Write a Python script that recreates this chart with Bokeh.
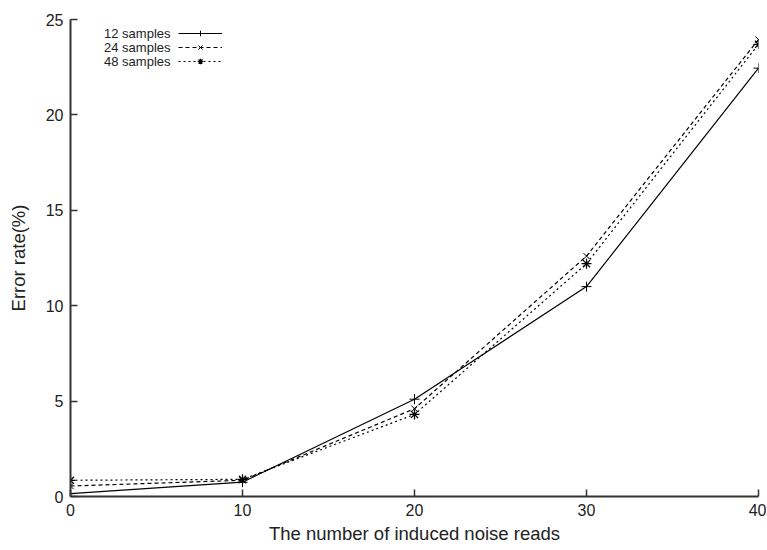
from bokeh.plotting import figure
from bokeh.models import Range1d, FixedTicker, Legend, LegendItem, Label
from bokeh.embed import file_html
from bokeh.resources import INLINE

noise_reads = [0, 10, 20, 30, 40]
err_12 = [0.15, 0.75, 5.1, 11.0, 22.45]
err_24 = [0.55, 0.85, 4.6, 12.6, 23.95]
err_48 = [0.85, 0.9, 4.3, 12.2, 23.7]
series_labels = ["12 samples", "24 samples", "48 samples"]
x_ticks = [0, 10, 20, 30, 40]
y_ticks = [0, 5, 10, 15, 20, 25]

FONT = "Liberation Sans"
FRAME_L, FRAME_T, FRAME_R, FRAME_B = 70, 19, 758, 496
W, H = 766, 549

p = figure(width=W, height=H, output_backend="svg", toolbar_location=None,
           x_range=Range1d(0, 40), y_range=Range1d(0, 25),
           min_border_left=FRAME_L, min_border_right=W - FRAME_R,
           min_border_top=FRAME_T, min_border_bottom=H - FRAME_B)
p.outline_line_color = None
p.grid.visible = False

for ax in (p.xaxis[0], p.yaxis[0]):
    ax.axis_line_width = 2
    ax.axis_line_color = "#333333"
    ax.major_tick_in = 7
    ax.major_tick_out = 0
    ax.major_tick_line_color = "#333333"
    ax.major_tick_line_width = 1.5
    ax.minor_tick_line_color = None
    ax.major_label_text_font = FONT
    ax.major_label_text_font_size = "16px"
    ax.major_label_text_color = "#222222"
    ax.axis_label_text_font = FONT
    ax.axis_label_text_font_size = "18.5px"
    ax.axis_label_text_font_style = "normal"
    ax.axis_label_text_color = "#222222"

p.xaxis.ticker = FixedTicker(ticks=x_ticks)
p.yaxis.ticker = FixedTicker(ticks=y_ticks)
p.xaxis.axis_label = "The number of induced noise reads"
p.yaxis.axis_label = "Error rate(%)"
p.xaxis.major_label_standoff = 7
p.yaxis.major_label_standoff = 7
p.xaxis.axis_label_standoff = 4
p.yaxis.axis_label_standoff = 14

l1 = p.line(noise_reads, err_12, line_color="black", line_width=1.2)
m1 = p.scatter(noise_reads, err_12, marker="cross", size=10, line_color="black", line_width=1)
l2 = p.line(noise_reads, err_24, line_color="black", line_width=1.2, line_dash="4 3")
m2 = p.scatter(noise_reads, err_24, marker="x", size=9, line_color="black", line_width=1)
l3 = p.line(noise_reads, err_48, line_color="black", line_width=1.2, line_dash="2 3")
m3 = p.scatter(noise_reads, err_48, marker="asterisk", size=10, line_color="black", line_width=1.2)

# legend: glyph samples (no text) + right-aligned texts to their left
row_h = 14
first_row = 33  # px below the top of the picture
legend = Legend(items=[
    LegendItem(label=" ", renderers=[l1, m1]),
    LegendItem(label=" ", renderers=[l2, m2]),
    LegendItem(label=" ", renderers=[l3, m3]),
], location=(108, (FRAME_B - first_row) + row_h // 2 - 3 * row_h), orientation="vertical")
legend.background_fill_alpha = 0
legend.border_line_color = None
legend.label_text_font_size = "1px"
legend.label_height = row_h
legend.label_width = 1
legend.glyph_height = row_h
legend.glyph_width = 44
legend.spacing = 0
legend.padding = 0
legend.margin = 0
legend.label_standoff = 0
p.add_layout(legend)

for i, txt in enumerate(series_labels):
    p.add_layout(Label(x=100, y=(FRAME_B - first_row) - i * row_h,
                       x_units="screen", y_units="screen", text=txt,
                       text_align="right", text_baseline="middle",
                       text_font=FONT, text_font_size="13px", text_color="#222222"))

open("out.html", "w").write(file_html(p, INLINE))
